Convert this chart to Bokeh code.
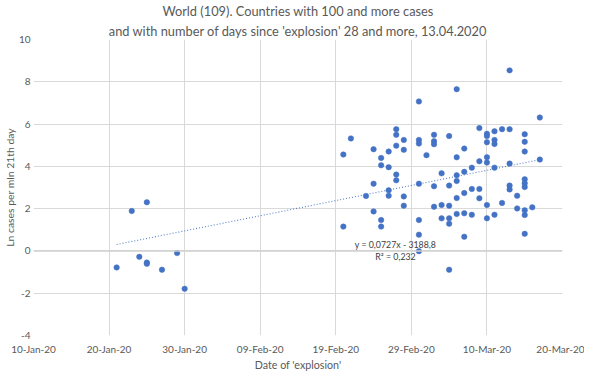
import numpy as np
from bokeh.plotting import figure
from bokeh.models import FixedTicker, Label, Span, Title
from bokeh.embed import file_html
from bokeh.resources import INLINE

# ---- data ----
explosion_dates = (
    ["2020-01-21", "2020-01-23", "2020-01-24", "2020-01-25", "2020-01-25", "2020-01-25",
     "2020-01-27", "2020-01-29", "2020-01-30"]
    + ["2020-02-20"] * 2 + ["2020-02-21"] + ["2020-02-23"] + ["2020-02-24"] * 3
    + ["2020-02-25"] * 4 + ["2020-02-26"] * 4 + ["2020-02-27"] * 5 + ["2020-02-28"] * 4
    + ["2020-03-01"] * 7 + ["2020-03-02"] + ["2020-03-03"] * 5 + ["2020-03-04"] * 3
    + ["2020-03-05"] * 6 + ["2020-03-06"] * 6 + ["2020-03-07"] * 5 + ["2020-03-08"] * 3
    + ["2020-03-09"] * 4 + ["2020-03-10"] * 7 + ["2020-03-11"] * 5 + ["2020-03-12"] * 2
    + ["2020-03-13"] * 5 + ["2020-03-14"] * 2 + ["2020-03-15"] * 9 + ["2020-03-16"]
    + ["2020-03-17"] * 2
)
ln_cases = (
    [-0.78, 1.89, -0.28, 2.30, -0.55, -0.61, -0.89, -0.10, -1.79]
    + [4.56, 1.15] + [5.32] + [2.60] + [4.81, 3.18, 1.87]
    + [4.40, 4.05, 1.46, 1.15] + [4.70, 3.96, 2.87, 2.61] + [5.76, 5.49, 4.98, 3.61, 3.34]
    + [5.25, 4.78, 2.58, 2.14]
    + [7.07, 5.25, 5.08, 3.18, 1.46, 0.77, -0.01] + [4.53] + [5.49, 5.19, 5.05, 3.06, 2.09]
    + [3.67, 2.17, 1.54]
    + [5.43, 3.09, 2.14, 1.54, 1.29, -0.89] + [7.65, 4.43, 3.58, 3.31, 2.50, 1.75]
    + [4.84, 3.74, 2.74, 1.78, 0.67] + [3.94, 2.93, 1.71]
    + [5.81, 4.24, 2.93, 2.49] + [5.54, 5.43, 5.14, 4.43, 4.18, 2.17, 1.54]
    + [5.66, 5.25, 5.06, 3.94, 1.71] + [5.76, 2.27]
    + [8.54, 5.76, 4.13, 3.09, 2.91] + [2.61, 2.01]
    + [5.52, 5.16, 4.70, 3.39, 3.20, 3.02, 1.92, 1.70, 0.81] + [2.06]
    + [6.31, 4.32]
)
x_tick_dates = ["2020-01-10", "2020-01-20", "2020-01-30", "2020-02-09",
                "2020-02-19", "2020-02-29", "2020-03-10", "2020-03-20"]
x_tick_labels = ["10-Jan-20", "20-Jan-20", "30-Jan-20", "09-Feb-20",
                 "19-Feb-20", "29-Feb-20", "10-Mar-20", "20-Mar-20"]
y_ticks = [-4, -2, 0, 2, 4, 6, 8, 10]
y_tick_labels = ["-4", "-2", "0", "2", "4", "6", "8", "10"]
title_lines = ["World (109). Countries with 100 and more cases",
               "and with number of days since 'explosion' 28 and more, 13.04.2020"]
x_title = "Date of 'explosion'"
y_title = "Ln cases per mln 21th day"
trend_text = ["y = 0,0727x - 3188,8", "R\u00b2 = 0,232"]


def ms(s):
    return float(np.datetime64(s, "ms").astype("int64"))


DAY = 86400000.0
xs = np.array([ms(d) for d in explosion_dates])
ys = np.array(ln_cases)
x_ticks = [ms(d) for d in x_tick_dates]

FONT = "Lato"
GREY = "#595959"
BLUE = "#4472C4"

p = figure(width=584, height=373, output_backend="svg", toolbar_location=None,
           x_range=(x_ticks[0], x_ticks[-1]), y_range=(y_ticks[0], y_ticks[-1]),
           min_border_left=33, min_border_right=22, min_border_bottom=38, min_border_top=39,
           outline_line_color=None, background_fill_color="white", border_fill_color="white")

# two-line title
p.title.text = title_lines[0]
p.title.align = "center"
p.title.text_font = FONT
p.title.text_font_size = "12.8px"
p.title.text_font_style = "normal"
p.title.text_color = GREY
p.title.standoff = 1
t2 = Title(text=title_lines[1], align="center", text_font=FONT, text_font_size="12.8px",
           text_font_style="normal", text_color=GREY, standoff=2)
p.add_layout(t2, "above")

# axes
p.xaxis.ticker = FixedTicker(ticks=x_ticks)
p.xaxis.major_label_overrides = {t: l for t, l in zip(x_ticks, x_tick_labels)}
p.yaxis.ticker = FixedTicker(ticks=y_ticks)
p.yaxis.major_label_overrides = {t: l for t, l in zip(y_ticks, y_tick_labels)}
for ax in (p.xaxis, p.yaxis):
    ax.axis_line_color = None
    ax.major_tick_line_color = None
    ax.minor_tick_line_color = None
    ax.major_tick_out = 0
    ax.major_tick_in = 0
    ax.minor_tick_out = 0
    ax.minor_tick_in = 0
    ax.major_label_text_font = FONT
    ax.major_label_text_font_size = "10px"
    ax.major_label_text_color = GREY
    ax.axis_label_text_font = FONT
    ax.axis_label_text_font_style = "normal"
    ax.axis_label_text_color = GREY
p.xaxis.axis_label = x_title
p.yaxis.axis_label = y_title
p.xaxis.axis_label_text_font_size = "10.7px"
p.yaxis.axis_label_text_font_size = "10.4px"
p.xaxis.major_label_standoff = 7
p.xaxis.axis_label_standoff = 0
p.yaxis.major_label_standoff = 3
p.yaxis.axis_label_standoff = 0

p.xgrid.ticker = FixedTicker(ticks=x_ticks)
p.ygrid.ticker = FixedTicker(ticks=y_ticks)
p.grid.grid_line_color = "#d9d9d9"
p.grid.grid_line_width = 1

p.add_layout(Span(location=0, dimension="width", line_color="#d0d0d0", line_width=1.6))

# linear trend computed from the data
days = (xs - xs.min()) / DAY
slope, intercept = np.polyfit(days, ys, 1)
tx = np.array([xs.min(), xs.max()])
ty = slope * (tx - xs.min()) / DAY + intercept
p.line(tx, ty, line_color=BLUE, line_width=1.1, line_dash="1 2", line_alpha=0.9)

p.scatter(xs, ys, size=5.5, fill_color=BLUE, line_color=BLUE, line_width=0.5)

lab_x = ms("2020-02-26") + 0.9 * DAY
p.add_layout(Label(x=lab_x, y=0.31, text=trend_text[0], text_align="center",
                   text_baseline="middle", text_font=FONT, text_font_size="8.8px",
                   text_color="#404040"))
p.add_layout(Label(x=lab_x, y=-0.27, text=trend_text[1], text_align="center",
                   text_baseline="middle", text_font=FONT, text_font_size="8.8px",
                   text_color="#404040"))

open("out.html", "w").write(file_html(p, INLINE))
